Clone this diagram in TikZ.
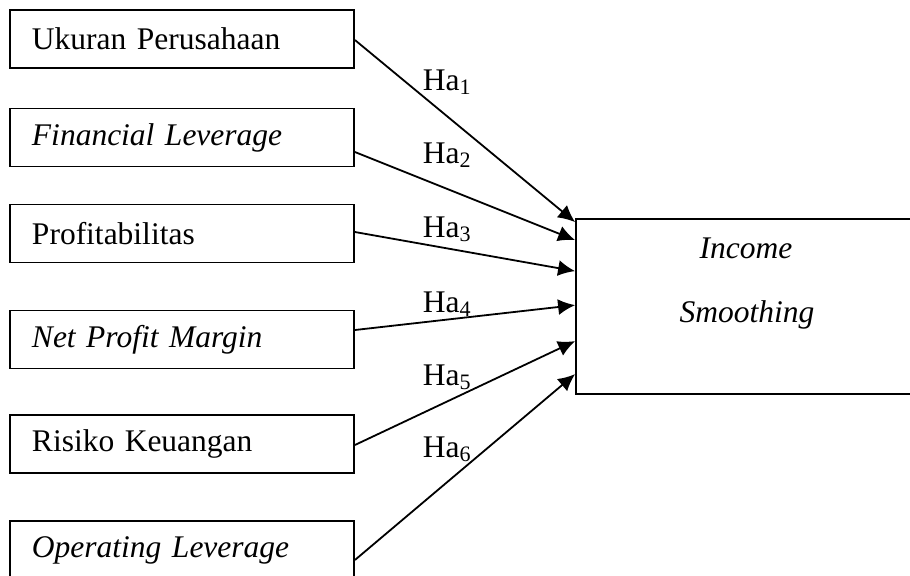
\documentclass[tikz,border=0pt]{standalone}
\usepackage{fontspec}
\setmainfont{Liberation Serif}
\usetikzlibrary{arrows.meta}
\newcommand{\ha}[1]{Ha\textsubscript{#1}}

\begin{document}
\begin{tikzpicture}[x=0.5pt, y=-0.5pt, line width=0.9pt,
  font=\fontsize{15.75}{19}\selectfont,
  var/.style={draw, text width=150pt, inner xsep=11pt, minimum height=29pt, align=left},
  hyp/.style={-{Latex[length=8.5pt,width=8pt]}}]
  \useasboundingbox (0,0) rectangle (910,575);
  \clip (0,0) rectangle (910,575);
  \node[var] (uk) at (182,39) {Ukuran Perusahaan};
  \node[var] (fl) at (182,137.5) {\textit{Financial Leverage}};
  \node[var] (pr) at (182,233.5) {Profitabilitas};
  \node[var] (npm) at (182,339.5) {\textit{Net Profit Margin}};
  \node[var] (rk) at (182,444) {Risiko Keuangan};
  \node[var] (ol) at (182,550) {\textit{Operating Leverage}};
  \node[draw, minimum width=170pt, minimum height=87.5pt, inner sep=0pt] (inc) at (746,306.5) {};
  \node[anchor=base] (inc1) at (746,258) {\textit{Income}};
  \node[anchor=base] (inc2) at (747,322) {\textit{Smoothing}};
  \foreach \i/\y in {1/90, 2/163, 3/237, 4/312, 5/385, 6/457}
    \node[anchor=base west, inner sep=0pt] (h\i) at (422,\y) {\ha{\i}};
  \foreach \s/\a/\b in {uk/-0.5/-2, fl/-7.25/-11, pr/0.75/-26.5, npm/4.75/-43.5, rk/-0.5/-61.5, ol/-5/-78}
    \draw[hyp] ([yshift=\a pt]\s.east) -- ([yshift=\b pt]inc.north west);
\end{tikzpicture}
\end{document}
